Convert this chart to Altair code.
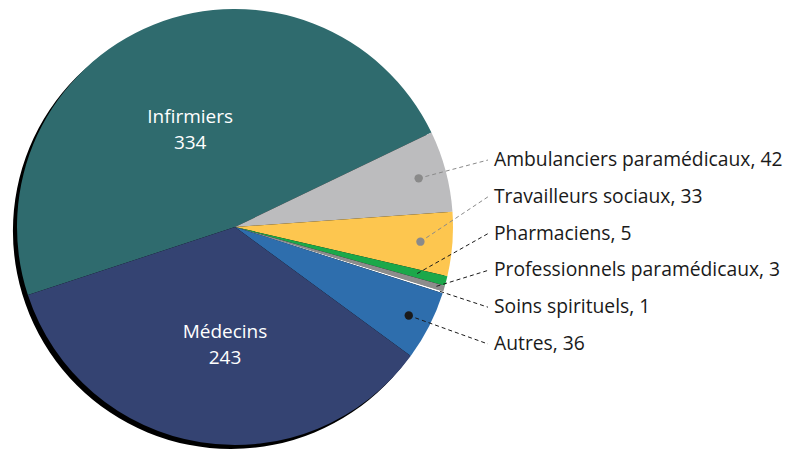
import math
import altair as alt
import pandas as pd

# ---- data ----
categories = ["Infirmiers", "Ambulanciers paramédicaux", "Travailleurs sociaux",
              "Pharmaciens", "Professionnels paramédicaux", "Soins spirituels",
              "Autres", "Médecins"]
values = [334, 42, 33, 5, 3, 1, 36, 243]

# ---- style / layout ----
colors = ["#2f6b6e", "#bcbcbe", "#fdc64f", "#1ba84a", "#8c8c8c", "#ffffff",
          "#2e6ead", "#344372"]
inner_cats = ["Infirmiers", "Médecins"]
inner_pos = {"Infirmiers": (108, -0.045), "Médecins": (117, -0.072)}  # radius, theta offset
leader_colors = {"Ambulanciers paramédicaux": "#8a8a8a", "Travailleurs sociaux": "#8a8a8a"}
dot_cats = ["Ambulanciers paramédicaux", "Travailleurs sociaux", "Autres"]
leader_r = {"Ambulanciers paramédicaux": 190, "Travailleurs sociaux": 186,
            "Pharmaciens": 188, "Professionnels paramédicaux": 210,
            "Soins spirituels": 215, "Autres": 195}

W, H = 781, 442
CX, CY, R = 227, 219, 218
START_DEG = -108.2
LABEL_X = 486
LEADER_X = 480
LABEL_Y0, LABEL_STEP = 152, 36.8
FONT = "Open Sans"
FS = 19
FS_OUT = 19.3

total = sum(values)
start = math.radians(START_DEG)

df = pd.DataFrame({"cat": categories, "value": values, "idx": range(len(values)),
                   "color": colors})
for c in inner_cats:
    df["in_" + c] = [f"{cc}\n{v}" if cc == c else "" for cc, v in zip(categories, values)]

# leader geometry computed from the data values
rows = []
cum = 0
k = 0
for c, v in zip(categories, values):
    mid = start + 2 * math.pi * (cum + v / 2) / total
    cum += v
    if c in inner_cats:
        continue
    r = leader_r[c]
    ly = LABEL_Y0 + k * LABEL_STEP
    rows.append({
        "cat": c, "label": f"{c}, {v}",
        "x": CX + r * math.sin(mid), "y": CY - r * math.cos(mid),
        "x2": LEADER_X, "y2": ly, "lx": LABEL_X, "ly": ly,
        "lc": leader_colors.get(c, "#1a1a1a"),
        "dot": c in dot_cats,
    })
    k += 1
lead = pd.DataFrame(rows)

theta = alt.Theta("value:Q", stack=True,
                  scale=alt.Scale(range=[start, start + 2 * math.pi]))
order = alt.Order("idx:Q")

shadow = alt.Chart(alt.Data(values=[{"a": 1}])).mark_arc(
    radius=R, theta=0, theta2=2 * math.pi, color="#000000"
).encode(x=alt.value(CX - 4), y=alt.value(CY + 4))

pie = alt.Chart(df).mark_arc(radius=R, strokeWidth=0).encode(
    theta=theta, order=order,
    color=alt.Color("color:N", scale=None),
    x=alt.value(CX), y=alt.value(CY),
)

inner_layers = []
for c in inner_cats:
    rad, off = inner_pos[c]
    inner_layers.append(alt.Chart(df).mark_text(
        radius=rad, thetaOffset=off, font=FONT, fontSize=FS, color="white",
        lineBreak="\n", lineHeight=26, align="center", baseline="middle", dy=-12
    ).encode(theta=theta, order=order, text=alt.Text("in_" + c + ":N"),
             x=alt.value(CX), y=alt.value(CY)))

rules = alt.Chart(lead).mark_rule(strokeDash=[4, 3], strokeWidth=1).encode(
    x=alt.X("x:Q", scale=None), y=alt.Y("y:Q", scale=None),
    x2="x2:Q", y2="y2:Q",
    color=alt.Color("lc:N", scale=None),
)

dots = alt.Chart(lead).transform_filter("datum.dot").mark_circle(
    size=70, opacity=1
).encode(
    x=alt.X("x:Q", scale=None), y=alt.Y("y:Q", scale=None),
    color=alt.Color("lc:N", scale=None),
)

labels = alt.Chart(lead).mark_text(
    font=FONT, fontSize=FS_OUT, color="#1a1a1a", align="left", baseline="middle"
).encode(
    x=alt.X("lx:Q", scale=None), y=alt.Y("ly:Q", scale=None), text="label:N"
)

chart = alt.layer(shadow, pie, *inner_layers, rules, dots, labels).properties(
    width=W, height=H, padding=0, autosize=alt.AutoSizeParams(type="none")
).configure_view(stroke=None)

chart.save("out.html", embed_options={"renderer": "svg", "actions": False})
